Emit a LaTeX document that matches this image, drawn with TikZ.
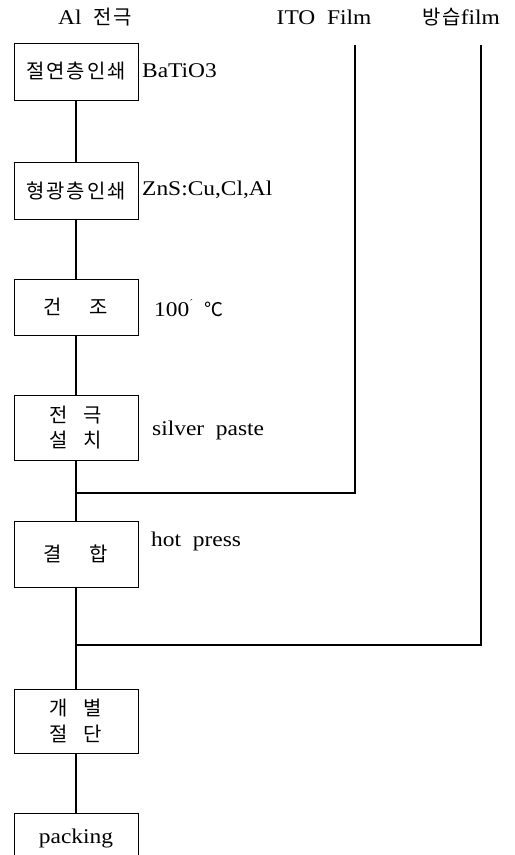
\documentclass[tikz,border=0pt]{standalone}
\usepackage{fontspec}
\setmainfont{Liberation Serif}[FakeStretch=1.12]
\newfontfamily\kr{Noto Sans CJK KR}[LetterSpace=10]
\begin{document}
\begin{tikzpicture}[x=1bp,y=-1bp,
  box/.style={draw,line width=0.9bp,minimum width=124bp,inner sep=0pt,font=\kr\fontsize{20}{23}\selectfont,align=center},
  conn/.style={line width=1.8bp},
  side/.style={anchor=west,inner sep=0pt,font=\fontsize{21}{24}\selectfont},
  ttl/.style={inner sep=0pt,font=\fontsize{21}{24}\selectfont}]
\useasboundingbox (0,0) rectangle (515,855);
\clip (0,0) rectangle (515,855);
% titles
\node[ttl] (t1) at (95,17) {Al\ \ {\kr\fontsize{20}{23}\selectfont 전극}};
\node[ttl] (t2) at (324,17) {ITO\ \ Film};
\node[ttl] (t3) at (461,17) {{\kr\fontsize{20}{23}\selectfont 방습}film};
% boxes
\node[box,minimum height=57bp] (b1) at (76,71.5) {절연층인쇄};
\node[box,minimum height=57bp] (b2) at (76,190.5) {형광층인쇄};
\node[box,minimum height=56bp] (b3) at (76,307) {건\hspace{1.4em}조};
\node[box,minimum height=65bp] (b4) at (76,427.5) {전\hspace{0.8em}극\\[3bp]설\hspace{0.8em}치};
\node[box,minimum height=66bp] (b5) at (76,554) {결\hspace{1.4em}합};
\node[box,minimum height=64bp] (b6) at (76,721) {개\hspace{0.8em}별\\[3bp]절\hspace{0.8em}단};
\node[box,minimum height=50bp,font=\fontsize{21}{24}\selectfont] (b7) at (76,838) {packing};
% side labels
\node[side] (s1) at (142,71) {BaTiO3};
\node[side] (s2) at (142,190) {ZnS:Cu,Cl,Al};
\node[side] (s3) at (154,308) {100\raisebox{1.0ex}{\fontsize{10}{10}\selectfont\textasciiacute}\ \ {\kr\fontsize{19}{22}\selectfont ℃}};
\node[side] (s4) at (152,430) {silver\ \ paste};
\node[side] (s5) at (151,541) {hot\ \ press};
% connectors
\coordinate (j1) at (76,493);
\coordinate (j2) at (76,645);
\coordinate (ito) at (355,45);
\coordinate (moi) at (481,45);
\draw[conn] (b1) -- (b2);
\draw[conn] (b2) -- (b3);
\draw[conn] (b3) -- (b4);
\draw[conn] (b4) -- (b5);
\draw[conn] (b5) -- (b6);
\draw[conn] (b6) -- (b7);
\draw[conn] (ito) |- (j1);
\draw[conn] (moi) |- (j2);
\end{tikzpicture}
\end{document}
